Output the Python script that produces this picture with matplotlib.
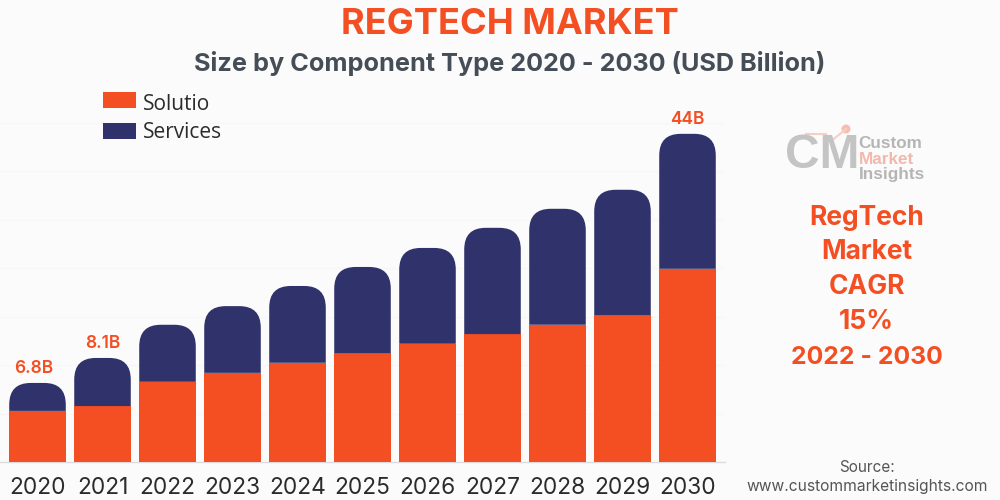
import matplotlib.pyplot as plt
from matplotlib.path import Path
from matplotlib.patches import PathPatch, Rectangle, Circle
from matplotlib.lines import Line2D

# values (bars are not drawn to the printed labels)
years = [2020, 2021, 2022, 2023, 2024, 2025, 2026, 2027, 2028, 2029, 2030]
solution = [6.85, 7.5, 10.75, 11.95, 13.3, 14.6, 15.85, 17.15, 18.4, 19.7, 25.9]
services = [3.75, 6.45, 7.65, 8.95, 10.3, 11.55, 12.85, 14.25, 15.55, 16.8, 18.1]
top_labels = {2020: "6.8B", 2021: "8.1B", 2030: "44B"}
legend_names = ["Solutio", "Services"]
grid_values = [6.5, 13, 19.5, 26, 32.5, 39, 45.5]

ORANGE = "#f44e23"
NAVY = "#30336b"
BG = "#fbfbfb"
DARK = "#2b2b2b"
SLATE = "#454d57"

plt.rcParams['font.family'] = ['Inter', 'DejaVu Sans']

fig = plt.figure(figsize=(10, 5), dpi=100, facecolor=BG)
# axes box: 0..725 px wide, baseline at y=462, top at y=104
ax = fig.add_axes([0, 38 / 500, 0.725, 358 / 500], facecolor=BG)
ax.set_xlim(-0.577, 10.577)
ax.set_ylim(0, 48)

bar_w = 0.87
rx = 0.33
ry = 2.9


def rounded_top(x, y0, y1, color):
    l = x - bar_w / 2
    r = x + bar_w / 2
    verts = [(l, y0), (l, y1 - ry), (l, y1), (l + rx, y1), (r - rx, y1), (r, y1), (r, y1 - ry), (r, y0), (l, y0)]
    codes = [Path.MOVETO, Path.LINETO, Path.CURVE3, Path.CURVE3, Path.LINETO, Path.CURVE3, Path.CURVE3, Path.LINETO, Path.CLOSEPOLY]
    ax.add_patch(PathPatch(Path(verts, codes), facecolor=color, edgecolor="none", zorder=3))


for v in grid_values:
    ax.axhline(v, color="#f7f7f7", lw=0.8, zorder=1)

xs = list(range(len(years)))
ax.bar(xs, solution, width=bar_w, color=ORANGE, zorder=3)
for x, year, a, b in zip(xs, years, solution, services):
    rounded_top(x, a, a + b, NAVY)
    if year in top_labels:
        # the first label sits a little left of its bar
        lx = x - 0.06 if year == 2020 else x
        ax.text(lx, a + b + 0.8, top_labels[year], ha="center", va="bottom", color=ORANGE,
                fontsize=12.5, fontweight="semibold", zorder=4)

ax.set_xticks(xs)
ax.set_xticklabels(years, fontsize=16.3, color=DARK)
ax.tick_params(axis="x", length=0, pad=11)
ax.set_yticks([])
for s in ["top", "right", "left"]:
    ax.spines[s].set_visible(False)
ax.spines["bottom"].set_color("#dcdcdc")
ax.spines["bottom"].set_linewidth(1)

# titles
fig.text(0.51, 0.952, "REGTECH MARKET", ha="center", va="center", color=ORANGE, fontsize=26, fontweight="bold")
fig.text(0.5095, 0.874, "Size by Component Type 2020 - 2030 (USD Billion)", ha="center", va="center",
         color=SLATE, fontsize=18.2, fontweight="bold")

# legend
for name, color, ypx in zip(legend_names, [ORANGE, NAVY], [100, 131]):
    fig.add_artist(Rectangle((103 / 1000, 1 - (ypx + 8) / 500), 33 / 1000, 16 / 500,
                             transform=fig.transFigure, facecolor=color, edgecolor="none"))
for name, ypx in zip(legend_names, [104, 133]):
    fig.text(143 / 1000, 1 - ypx / 500, name, ha="left", va="center", color=DARK, fontsize=15, family="Open Sans")

# logo
fig.text(0.8225, 1 - 156 / 500, "CM", ha="center", va="center", color="#c4c4c4", fontsize=34.5, fontweight="bold", family="Liberation Sans")
fig.add_artist(Circle((846, 500 - 129), 4.5, transform=None, facecolor="#f4bfb0", edgecolor="none"))
fig.add_artist(Line2D([0.806, 0.826, 0.83, 0.846], [1 - 134 / 500, 1 - 134 / 500, 1 - 142 / 500, 1 - 129 / 500],
                      transform=fig.transFigure, color="#f6cfc4", lw=1.5))
for word, color, ypx in zip(["Custom", "Market", "Insights"], ["#b5b5b5", "#f2b9ab", "#b5b5b5"], [144, 159, 174]):
    fig.text(0.8585, 1 - ypx / 500, word, ha="left", va="center", color=color, fontsize=12.3, fontweight="bold", family="Liberation Sans")

# right hand column
for line, ypx, size in zip(["RegTech", "Market", "CAGR", "15%", "2022 - 2030"], [218, 252, 287, 322, 357], [19, 19, 19, 19, 17.8]):
    fig.text(0.8665, 1 - ypx / 500, line, ha="center", va="center", color=ORANGE, fontsize=size, fontweight="bold")

fig.text(0.867, 1 - 467 / 500, "Source:", ha="center", va="center", color="#555555", fontsize=11)
fig.text(0.867, 1 - 487 / 500, "www.custommarketinsights.com", ha="center", va="center", color="#555555", fontsize=11.2)

fig.savefig("out.png", dpi=100, facecolor=BG)
